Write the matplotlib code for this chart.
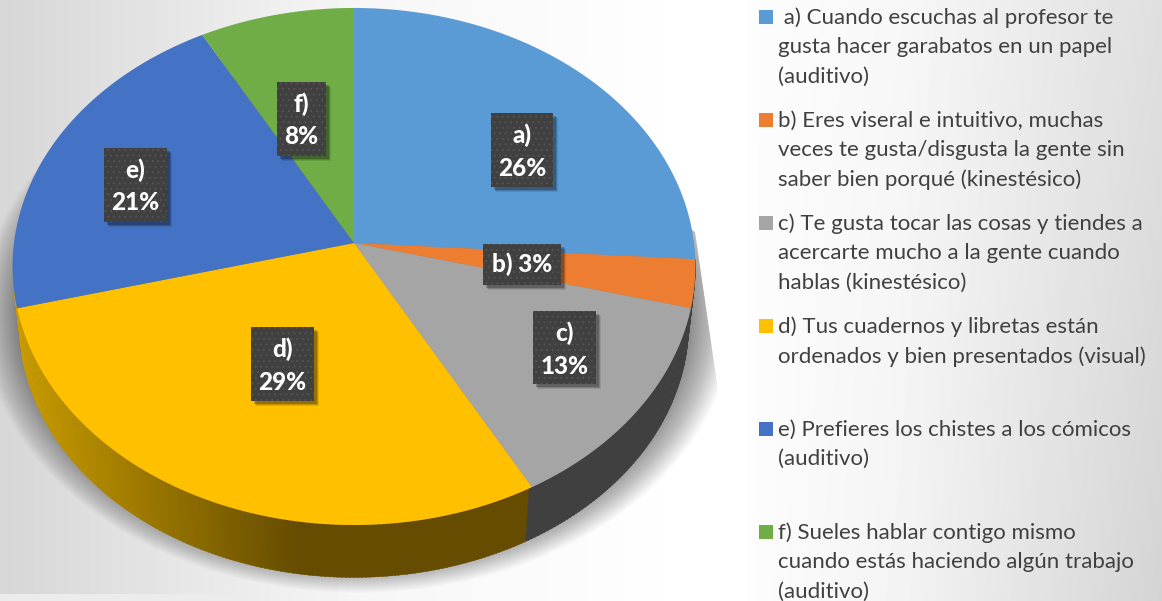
import numpy as np
import matplotlib
matplotlib.use('Agg')
import matplotlib.pyplot as plt
from matplotlib.patches import Rectangle, Polygon

# pie data
slice_names = ['a)', 'b)', 'c)', 'd)', 'e)', 'f)']
slice_values = [26, 3, 13, 29, 21, 8]
slice_colors = ['#5B9BD5', '#ED7D31', '#A5A5A5', '#FFC000', '#4472C4', '#70AD47']

legend_texts = [
    [' a) Cuando escuchas al profesor te', 'gusta hacer garabatos en un papel', '(auditivo)'],
    ['b) Eres viseral e intuitivo, muchas', 'veces te gusta/disgusta la gente sin', 'saber bien porqué (kinestésico)'],
    ['c) Te gusta tocar las cosas y tiendes a', 'acercarte mucho a la gente cuando', 'hablas (kinestésico)'],
    ['d) Tus cuadernos y libretas están', 'ordenados y bien presentados (visual)'],
    ['e) Prefieres los chistes a los cómicos', '(auditivo)'],
    ['f) Sueles hablar contigo mismo', 'cuando estás haciendo algún trabajo', '(auditivo)'],
]

# layout, in pixels of the picture
CX, CY = 354, 243
RX, RY, PERSP = 340, 256.4, 0.0909
WALL_SCALE, WALL_Y = 0.98, 301
label_boxes = [(491, 113, 62, 74), (483, 244, 78, 41), (533, 311, 63, 73),
               (251, 327, 63, 74), (104, 148, 63, 74), (277, 82, 49, 74)]
legend_tops = [16, 119, 222, 325, 428, 531]
LINE_STEP = 29.3

plt.rcParams['font.family'] = ['Lato', 'DejaVu Sans']
plt.rcParams['hatch.linewidth'] = 0.8


def project(theta, r=1.0):
    # theta runs clockwise from 12 o'clock, circle seen in perspective
    x = r * np.sin(theta)
    y = r * np.cos(theta)
    w = 1 + PERSP * y
    return CX + RX * x / w, CY - RY * y / w


def background():
    xs = np.arange(1162)
    ys = np.arange(601)[:, None]
    left = np.interp(xs, [0, 360, 700, 718], [0.84, 0.965, 1.0, 1.0])
    right = np.interp(xs, [747, 900, 1162], [0.99, 0.97, 0.875])
    right = right - 0.045 * (ys / 601) * np.clip((xs - 747) / 415, 0, 1)
    img = np.where(xs < 747, left, right)
    img[594:, :747] = np.maximum(img[594:, :747], 0.925)
    return img


fig = plt.figure(figsize=(11.62, 6.01), dpi=100)
ax = fig.add_axes([0, 0, 1, 1])
ax.imshow(background(), cmap='gray', vmin=0, vmax=1, extent=(0, 1162, 601, 0), aspect='auto', zorder=0)
ax.set_xlim(0, 1162)
ax.set_ylim(601, 0)
ax.axis('off')

# soft shadow under the pie
angles = np.linspace(0, 2 * np.pi, 240)
clip = Polygon([(0, 0), (354, 0), (695, 232), (718, 390), (718, 594), (0, 594)],
               transform=ax.transData, fill=False, edgecolor='none')
ax.add_patch(clip)
for s in np.linspace(1.08, 0.95, 34):
    sx, sy = project(angles)
    shadow = ax.fill(358 + (sx - CX) * s * 1.02, 312 + (sy - 265) * s,
                     color='black', alpha=0.015, linewidth=0, zorder=1)[0]
    shadow.set_clip_path(clip)

# side wall, in thin strips so the shading runs along it
fractions = np.cumsum([0] + slice_values) / sum(slice_values)
wall_from, wall_to = fractions[1] * 2 * np.pi, (fractions[4] + 0.01) * 2 * np.pi
wall_angles = np.linspace(wall_from, wall_to, 260)
gold_dark = np.array(matplotlib.colors.to_rgb('#654C00'))
gold_light = np.array(matplotlib.colors.to_rgb('#C89B00'))
for t0, t1 in zip(wall_angles[:-1], wall_angles[1:]):
    tx, ty = project(np.array([t0, t1 + 0.003]))
    bx = CX + (tx - CX) * WALL_SCALE
    by = WALL_Y + (ty - CY) * WALL_SCALE
    if t0 < fractions[3] * 2 * np.pi:
        col = '#404040'
    else:
        k = np.clip((300 - tx[0]) / 280, 0, 1)
        col = gold_dark + (gold_light - gold_dark) * k
    ax.fill([tx[0], tx[1], bx[1], bx[0]], [ty[0], ty[1], by[1], by[0]], color=col, linewidth=0.3, zorder=2)

# top face
for i, color in enumerate(slice_colors):
    th = np.linspace(fractions[i], fractions[i + 1], 120) * 2 * np.pi
    px, py = project(th)
    ax.fill(np.r_[CX, px], np.r_[CY, py], color=color, linewidth=0, zorder=3)

# data labels
for name, val, (bx, by, bw, bh) in zip(slice_names, slice_values, label_boxes):
    for off, a in [(5, 0.10), (4, 0.15), (3, 0.22)]:
        ax.add_patch(Rectangle((bx + off, by + off), bw, bh, facecolor='black', alpha=a, linewidth=0, zorder=4))
    ax.add_patch(Rectangle((bx, by), bw, bh, facecolor='#404040', edgecolor='#525252', hatch='...',
                           linewidth=0, zorder=5))
    if bh < 50:
        ax.text(bx + bw / 2, by + bh / 2, f'{name} {val}%', color='white', fontsize=17.5, fontweight='black',
                ha='center', va='center', zorder=6)
    else:
        ax.text(bx + bw / 2, by + 22, name, color='white', fontsize=17.5, fontweight='black',
                ha='center', va='center', zorder=6)
        ax.text(bx + bw / 2, by + 55, f'{val}%', color='white', fontsize=17.5, fontweight='black',
                ha='center', va='center', zorder=6)

# legend on the right
for lines, top, color in zip(legend_texts, legend_tops, slice_colors):
    ax.add_patch(Rectangle((759, top - 6), 14, 14, facecolor=color, linewidth=0, zorder=3))
    for j, line in enumerate(lines):
        ax.text(778, top + 2 + j * LINE_STEP, line, color='#404040', fontsize=16, ha='left', va='center', zorder=3)

fig.savefig('out.png', dpi=100)
